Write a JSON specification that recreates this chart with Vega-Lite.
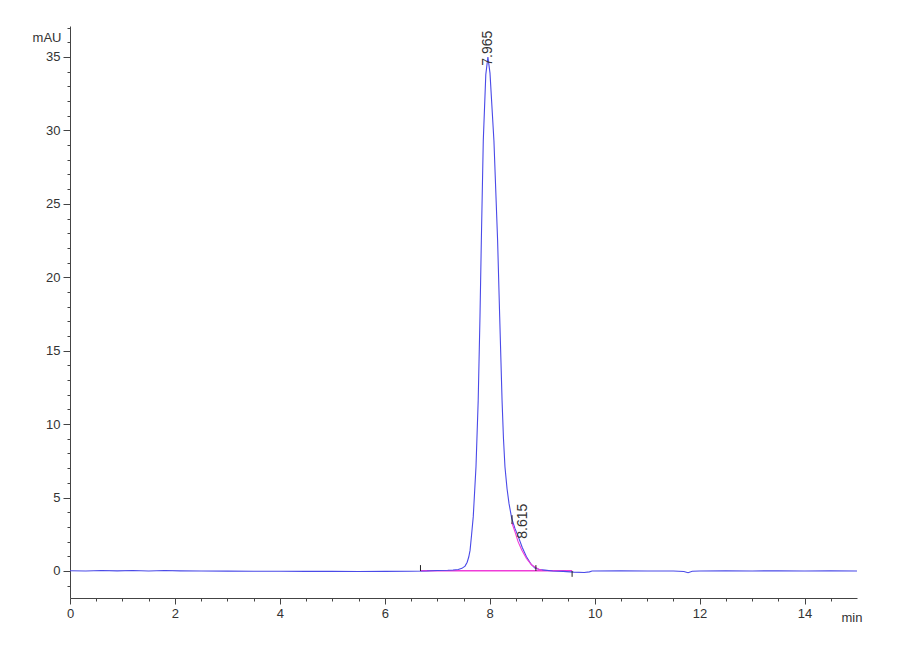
{
  "$schema": "https://vega.github.io/schema/vega-lite/v6.json",
  "width": 787,
  "height": 572,
  "autosize": "none",
  "padding": {"left": 70, "top": 26, "right": 43, "bottom": 62},
  "background": "#ffffff",
  "config": {
    "view": {"stroke": null},
    "font": "Liberation Sans Narrow, Liberation Sans, Arial, sans-serif",
    "axis": {
      "grid": false,
      "domainColor": "#444444",
      "tickColor": "#444444",
      "labelColor": "#333333",
      "titleColor": "#333333",
      "labelFont": "Liberation Sans Narrow, Liberation Sans, Arial, sans-serif",
      "titleFont": "Liberation Sans Narrow, Liberation Sans, Arial, sans-serif",
      "labelFontSize": 13,
      "titleFontSize": 13,
      "titleFontWeight": "normal",
      "labelFlush": false,
      "labelOverlap": false
    }
  },
  "datasets": {
    "trace": [
      {"t": 0.0, "mAU": 0.02}, {"t": 0.3, "mAU": 0.0}, {"t": 0.6, "mAU": 0.03}, {"t": 0.9, "mAU": 0.01},
      {"t": 1.2, "mAU": 0.03}, {"t": 1.5, "mAU": 0.0}, {"t": 1.8, "mAU": 0.03}, {"t": 2.1, "mAU": 0.01},
      {"t": 2.5, "mAU": 0.0}, {"t": 3.0, "mAU": -0.01}, {"t": 3.5, "mAU": -0.02}, {"t": 4.0, "mAU": -0.02},
      {"t": 4.5, "mAU": -0.03}, {"t": 5.0, "mAU": -0.03}, {"t": 5.5, "mAU": -0.04}, {"t": 6.0, "mAU": -0.03},
      {"t": 6.5, "mAU": -0.02}, {"t": 6.8, "mAU": 0.0}, {"t": 7.0, "mAU": 0.03}, {"t": 7.2, "mAU": 0.05},
      {"t": 7.3, "mAU": 0.07}, {"t": 7.4, "mAU": 0.1}, {"t": 7.47, "mAU": 0.18}, {"t": 7.53, "mAU": 0.33},
      {"t": 7.57, "mAU": 0.6}, {"t": 7.6, "mAU": 0.95}, {"t": 7.625, "mAU": 1.4}, {"t": 7.655, "mAU": 2.5},
      {"t": 7.686, "mAU": 3.7}, {"t": 7.738, "mAU": 7.1}, {"t": 7.78, "mAU": 11.6}, {"t": 7.814, "mAU": 17.3},
      {"t": 7.84, "mAU": 22.5}, {"t": 7.877, "mAU": 29.3}, {"t": 7.925, "mAU": 33.8}, {"t": 7.965, "mAU": 35.0},
      {"t": 8.005, "mAU": 33.9}, {"t": 8.08, "mAU": 29.3}, {"t": 8.15, "mAU": 22.5}, {"t": 8.19, "mAU": 17.3},
      {"t": 8.235, "mAU": 11.6}, {"t": 8.262, "mAU": 9.0}, {"t": 8.29, "mAU": 7.1}, {"t": 8.33, "mAU": 5.6},
      {"t": 8.367, "mAU": 4.6}, {"t": 8.418, "mAU": 3.6},
      {"t": 8.48, "mAU": 2.9}, {"t": 8.544, "mAU": 2.34}, {"t": 8.62, "mAU": 1.6}, {"t": 8.7, "mAU": 0.97},
      {"t": 8.78, "mAU": 0.5}, {"t": 8.86, "mAU": 0.2}, {"t": 8.95, "mAU": 0.1}, {"t": 9.05, "mAU": 0.06},
      {"t": 9.2, "mAU": 0.0}, {"t": 9.4, "mAU": -0.03}, {"t": 9.6, "mAU": -0.08}, {"t": 9.8, "mAU": -0.1},
      {"t": 9.9, "mAU": -0.06}, {"t": 9.95, "mAU": 0.0}, {"t": 10.5, "mAU": 0.01}, {"t": 11.0, "mAU": 0.0},
      {"t": 11.5, "mAU": 0.0}, {"t": 11.7, "mAU": -0.04}, {"t": 11.78, "mAU": -0.12}, {"t": 11.86, "mAU": -0.02},
      {"t": 12.0, "mAU": 0.0}, {"t": 12.5, "mAU": 0.02}, {"t": 13.0, "mAU": 0.0}, {"t": 13.5, "mAU": 0.02},
      {"t": 14.0, "mAU": 0.0}, {"t": 14.5, "mAU": 0.01}, {"t": 15.0, "mAU": 0.0}
    ],
    "skim": [
      {"t": 8.42, "mAU": 3.3}, {"t": 8.48, "mAU": 2.68}, {"t": 8.54, "mAU": 2.0}, {"t": 8.61, "mAU": 1.43},
      {"t": 8.7, "mAU": 0.85}, {"t": 8.8, "mAU": 0.41}, {"t": 8.93, "mAU": 0.12}, {"t": 9.0, "mAU": 0.04}
    ],
    "baseline": [
      {"start": 6.68, "end": 9.57, "mAU": 0.02}
    ],
    "marks": [
      {"t": 6.68, "y1": 0.0, "y2": 0.4},
      {"t": 8.425, "y1": 3.2, "y2": 3.8},
      {"t": 8.88, "y1": 0.0, "y2": 0.4},
      {"t": 9.57, "y1": 0.0, "y2": -0.4}
    ],
    "peaks": [
      {"t": 7.965, "mAU": 34.4, "label": "7.965"},
      {"t": 8.63, "mAU": 2.2, "label": "8.615"}
    ]
  },
  "encoding": {
    "x": {
      "field": "t",
      "type": "quantitative",
      "scale": {"domain": [0, 15], "nice": false, "zero": false},
      "axis": {
        "title": "min",
        "values": [0, 0.5, 1, 1.5, 2, 2.5, 3, 3.5, 4, 4.5, 5, 5.5, 6, 6.5, 7, 7.5, 8, 8.5, 9, 9.5, 10, 10.5, 11, 11.5, 12, 12.5, 13, 13.5, 14, 14.5],
        "labelExpr": "datum.value % 2 === 0 ? format(datum.value, 'd') : ''",
        "tickSize": {"condition": {"test": "datum.value % 2 === 0", "value": 6}, "value": 3},
        "labelPadding": 3,
        "titleAnchor": "start",
        "titleAlign": "left",
        "titleBaseline": "alphabetic",
        "titleX": 771,
        "titleY": 23
      }
    },
    "y": {
      "field": "mAU",
      "type": "quantitative",
      "scale": {"domain": [-1.84, 37.11], "nice": false, "zero": false},
      "axis": {
        "title": "mAU",
        "values": [-1, 0, 1, 2, 3, 4, 5, 6, 7, 8, 9, 10, 11, 12, 13, 14, 15, 16, 17, 18, 19, 20, 21, 22, 23, 24, 25, 26, 27, 28, 29, 30, 31, 32, 33, 34, 35, 36, 37],
        "labelExpr": "datum.value % 5 === 0 ? datum.label : ''",
        "tickSize": {"condition": {"test": "datum.value % 5 === 0", "value": 7}, "value": 3},
        "labelPadding": 3,
        "titleAngle": 0,
        "titleAlign": "right",
        "titleBaseline": "middle",
        "titleX": -9,
        "titleY": 11
      }
    }
  },
  "layer": [
    {
      "data": {"name": "baseline"},
      "mark": {"type": "rule", "color": "#f03cd8", "strokeWidth": 1.5},
      "encoding": {
        "x": {"field": "start", "type": "quantitative"},
        "x2": {"field": "end"},
        "y": {"field": "mAU", "type": "quantitative"}
      }
    },
    {
      "data": {"name": "trace"},
      "mark": {"type": "line", "color": "#4a4ae8", "strokeWidth": 1.1},
      "encoding": {}
    },
    {
      "data": {"name": "skim"},
      "mark": {"type": "line", "color": "#f03cd8", "strokeWidth": 1.1},
      "encoding": {}
    },
    {
      "data": {"name": "marks"},
      "mark": {"type": "rule", "color": "#222222", "strokeWidth": 1},
      "encoding": {
        "y": {"field": "y1", "type": "quantitative"},
        "y2": {"field": "y2"}
      }
    },
    {
      "data": {"name": "peaks"},
      "mark": {"type": "text", "angle": 270, "align": "left", "baseline": "middle", "fontSize": 14, "color": "#333333"},
      "encoding": {
        "text": {"field": "label", "type": "nominal"}
      }
    }
  ]
}
